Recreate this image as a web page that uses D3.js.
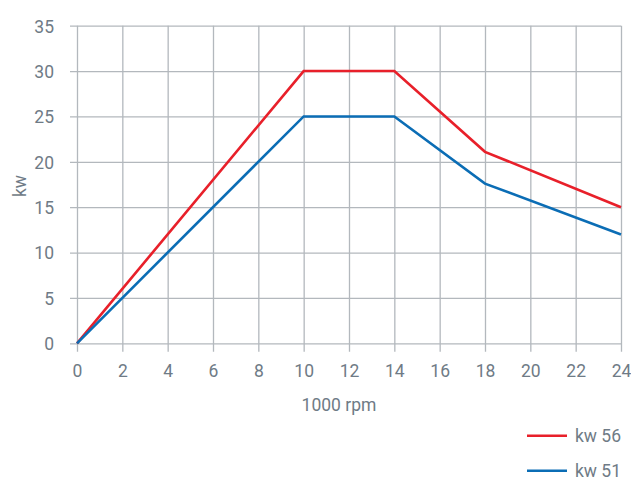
<!DOCTYPE html>
<html><head><meta charset="utf-8">
<script src="https://cdn.jsdelivr.net/npm/d3@7"></script>
<style>
html,body{margin:0;padding:0;background:#fff;}
text{font-family:Roboto,"Liberation Sans",sans-serif;fill:#6f7b86;}
</style></head>
<body>
<svg id="chart" width="631" height="478"></svg>
<script>
const rpm = [0, 10, 14, 18, 24];
const kw56 = [0, 30, 30, 21.1, 15.0];
const kw51 = [0, 25, 25, 17.6, 12.0];
const xTicks = [0,2,4,6,8,10,12,14,16,18,20,22,24];
const yTicks = [0,5,10,15,20,25,30,35];
const seriesNames = ["kw 56", "kw 51"];
const seriesColors = ["#e8202a", "#0b6db5"];

(function(){
const svg = d3.select("#chart");
const mLeft = 77, mRight = 621, mTop = 25.7, mBottom = 343.3;
const x = d3.scaleLinear().domain([0,24]).range([mLeft,mRight]);
const y = d3.scaleLinear().domain([0,35]).range([mBottom,mTop]);
const gridColor = "#b3b8bd";
const fs = "17.5px";

const gy = svg.append("g").attr("transform",`translate(${mLeft},0)`)
  .call(d3.axisLeft(y).tickValues(yTicks).tickSizeOuter(0).tickPadding(17).tickFormat(d3.format("d")));
gy.select(".domain").remove();
gy.selectAll(".tick line").attr("stroke",gridColor).attr("stroke-width",1.3).attr("x1",-7).attr("x2",mRight-mLeft);
gy.selectAll(".tick text").style("font-size",fs).attr("fill","#6f7b86").attr("dy","0.36em");

const gx = svg.append("g").attr("transform",`translate(0,${mBottom})`)
  .call(d3.axisBottom(x).tickValues(xTicks).tickSize(0).tickSizeOuter(0).tickPadding(21).tickFormat(d3.format("d")));
gx.select(".domain").remove();
gx.selectAll(".tick line").attr("stroke",gridColor).attr("stroke-width",1.3).attr("y1",-(mBottom-mTop)).attr("y2",8.5);
gx.selectAll(".tick text").style("font-size",fs).attr("fill","#6f7b86").attr("dy","0.71em");

const line = d3.line().x((d,i)=>x(rpm[i])).y(d=>y(d));
[kw56, kw51].forEach((s,k)=>{
  svg.append("path").datum(s).attr("d",line).attr("fill","none")
    .attr("stroke",seriesColors[k]).attr("stroke-width",2.6).attr("stroke-linejoin","miter");
});

svg.append("text").attr("transform","translate(26,186) rotate(-90)")
  .attr("text-anchor","middle").style("font-size",fs).text("kw");
svg.append("text").attr("x",339).attr("y",411)
  .attr("text-anchor","middle").style("font-size",fs).text("1000 rpm");

const lg = svg.append("g");
seriesNames.forEach((n,k)=>{
  const ly = 435.7 + k*35;
  lg.append("line").attr("x1",527).attr("x2",567).attr("y1",ly).attr("y2",ly)
    .attr("stroke",seriesColors[k]).attr("stroke-width",2.6);
  lg.append("text").attr("x",575).attr("y",ly).attr("dy","0.36em")
    .style("font-size",fs).text(n);
});
})();
</script>
</body></html>
